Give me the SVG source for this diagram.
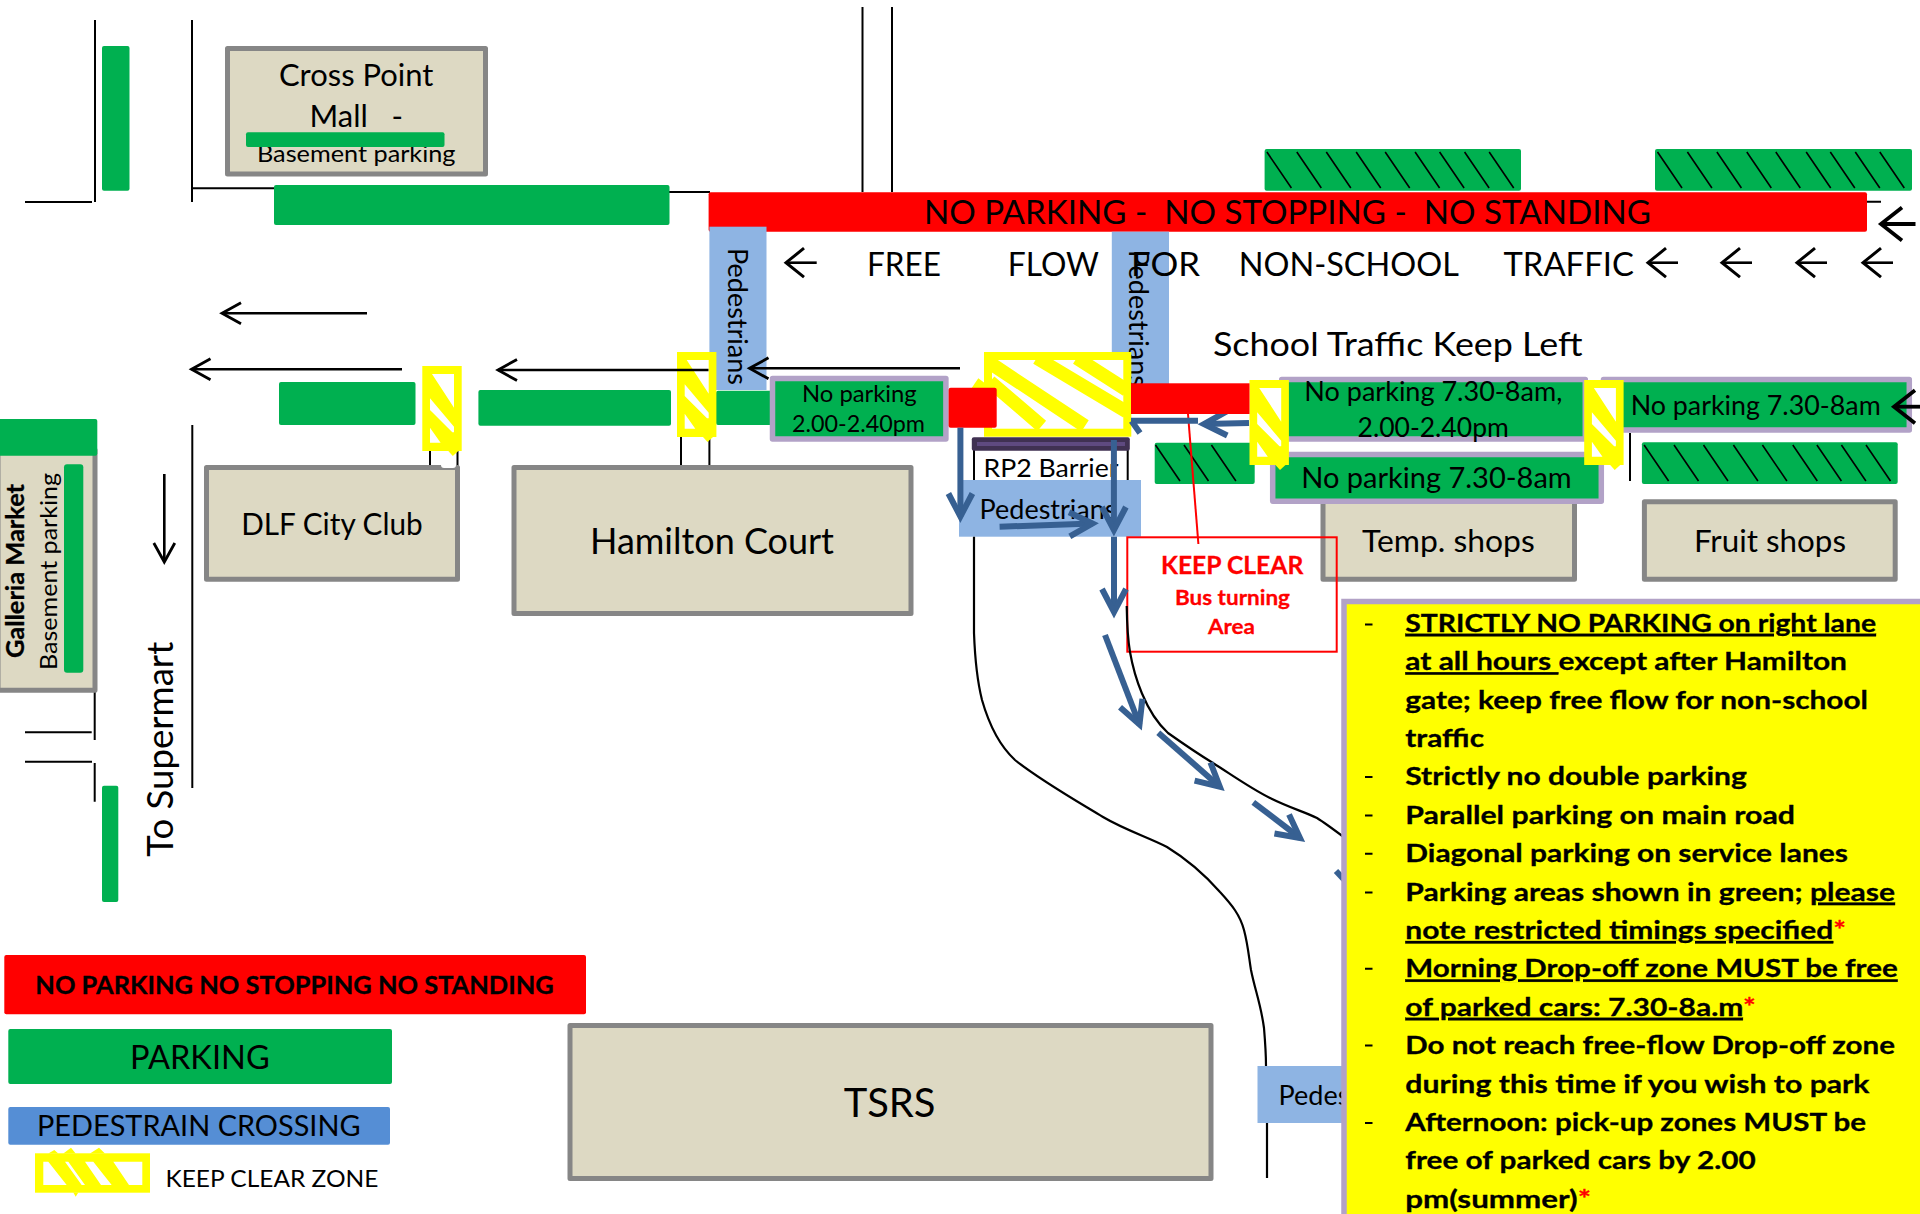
<svg xmlns="http://www.w3.org/2000/svg" width="1920" height="1214" viewBox="0 0 1920 1214">
<style>
text{font-family:Lato,"Liberation Sans",sans-serif;fill:#000;white-space:pre}
.b{font-weight:700;stroke:#000;stroke-width:.3}
.u{text-decoration:underline;text-decoration-skip-ink:none}
.r{fill:#f00;stroke:#f00}
.g{fill:#00B050}
.red{fill:#f00}
.ped{fill:#8EB4E3}
.box{fill:#DDD9C3;stroke:#868686;stroke-width:5;stroke-linejoin:round}
.np{fill:#00B050;stroke:#B2A2C7;stroke-width:5.5;stroke-linejoin:round}
.hatch{fill:none;stroke:#000;stroke-width:1.6}
.ln{fill:none;stroke:#000;stroke-width:2}
.cv{fill:none;stroke:#000;stroke-width:2.2}
.ar{fill:none;stroke:#000;stroke-width:2.6}
.bl{fill:none;stroke:#376092;stroke-width:6}
.n{font-weight:700;font-size:25px;stroke:#000;stroke-width:.3}
</style>
<defs>
<marker id="a1" markerUnits="userSpaceOnUse" markerWidth="40" markerHeight="40" refX="20" refY="20" orient="auto"><path d="M1 9.5L20 20L1 30.5" fill="none" stroke="#000" stroke-width="2.8"/></marker>
<marker id="a2" markerUnits="userSpaceOnUse" markerWidth="50" markerHeight="50" refX="25" refY="25" orient="auto"><path d="M7 10.5L25 25L7 39.5" fill="none" stroke="#000" stroke-width="3"/></marker>
<marker id="a3" markerUnits="userSpaceOnUse" markerWidth="60" markerHeight="60" refX="30" refY="30" orient="auto"><path d="M9 13.5L30 30L9 46.5" fill="none" stroke="#000" stroke-width="3.8"/></marker>
<marker id="b1" markerUnits="userSpaceOnUse" markerWidth="60" markerHeight="60" refX="30" refY="30" orient="auto"><path d="M7 18L30 30L7 42" fill="none" stroke="#376092" stroke-width="6"/></marker>
<g id="zone">
<rect width="39.4" height="85" fill="#ff0"/>
<path d="M26 85L30.500 90L36 85Z" fill="#ff0"/>
<path d="M9.700 8H31.700V41.700Z M7.700 32.300L31.700 60.700V66.300H30L7.700 44Z M7.700 61.700L18.300 76.700H7.700Z" fill="#fff"/>
</g>
</defs>
<rect width="1920" height="1214" fill="#fff"/>

<g id="road-edges">
<path class="ln" d="M95 20V202M25 202H92M192 20V202M192 188.300H274M669 192H710M862.500 7V192M892 7V192M192.300 425V788M94.700 439V740M25 732.300H91.700M25 761.700H92M94.700 763V801.700M430 451V474M457.500 451V480M681 437V465M709.400 437V465M974 450V480M1127.700 450V480M1630 433V481M1867 201.700H1881"/>
</g>

<g id="cross-point-mall">
<rect class="box" x="227.500" y="48.500" width="258" height="125.500"/>
<text x="279" y="86" font-size="31" textLength="154.400" lengthAdjust="spacingAndGlyphs">Cross Point</text>
<text x="309.500" y="126.700" font-size="31" textLength="93.500" lengthAdjust="spacingAndGlyphs">Mall   -</text>
<text x="257" y="161.700" font-size="24" textLength="198.500" lengthAdjust="spacingAndGlyphs">Basement parking</text>
<rect class="g" x="246" y="132.300" width="198.500" height="14.700" rx="2"/>
</g>

<g id="parking-strips">
<rect class="g" x="102" y="46" width="27.500" height="144.700" rx="2"/>
<rect class="g" x="274" y="185" width="395.500" height="40" rx="2"/>
<rect class="g" x="279" y="382" width="136.500" height="43" rx="2"/>
<rect class="g" x="478.400" y="390" width="192.600" height="35.700" rx="2"/>
<rect class="g" x="716" y="390.700" width="56" height="34.300" rx="2"/>
<rect class="g" x="102" y="785.700" width="16.300" height="116.300" rx="2"/>
</g>

<g id="hatched-parking-1">
<rect class="g" x="1264.600" y="149" width="256.400" height="41.700" rx="2"/>
<path class="hatch" d="M1266.900 152l24.500 36M1296.800 152l24.500 36M1326.300 152l24.500 36M1356.200 152l24.500 36M1385.200 152l24.500 36M1415.100 152l24.500 36M1439.600 152l24.500 36M1464.600 152l24.500 36M1489.200 152l24.500 36"/>
</g>
<g id="hatched-parking-2">
<rect class="g" x="1655" y="149" width="257" height="41.700" rx="2"/>
<path class="hatch" d="M1657.500 152l24.500 36M1687.400 152l24.500 36M1716.900 152l24.500 36M1746.800 152l24.500 36M1775.800 152l24.500 36M1806.200 152l24.500 36M1830.300 152l24.500 36M1855.300 152l24.500 36M1879.800 152l24.500 36"/>
</g>
<g id="hatched-parking-3">
<rect class="g" x="1641.900" y="442.300" width="255.800" height="41.700" rx="2"/>
<path class="hatch" d="M1644.100 445l24.500 36M1674 445l24.500 36M1703.500 445l24.500 36M1733.400 445l24.500 36M1762.400 445l24.500 36M1792.800 445l24.500 36M1816.900 445l24.500 36M1841.400 445l24.500 36M1866 445l24.500 36"/>
</g>
<g id="hatched-parking-4">
<rect class="g" x="1154.700" y="442.700" width="100" height="41.300" rx="2"/>
<path class="hatch" d="M1155.500 445l24.500 36M1184 445l24.500 36M1211.400 445l24.500 36"/>
</g>

<g id="no-parking-bar">
<rect class="red" x="708.600" y="192.300" width="1158.400" height="39.400" rx="2"/>
<text x="924" y="224.300" font-size="32" textLength="727" lengthAdjust="spacingAndGlyphs">NO PARKING -  NO STOPPING -  NO STANDING</text>
</g>

<g id="pedestrians-left">
<rect class="ped" x="709.400" y="226.700" width="57.100" height="163.300"/>
<text transform="translate(727.500 248) rotate(90)" font-size="26" textLength="137" lengthAdjust="spacingAndGlyphs">Pedestrians</text>
</g>
<g id="pedestrians-middle">
<rect class="ped" x="1111.800" y="231.700" width="57.200" height="178.300"/>
<text transform="translate(1129 250) rotate(90)" font-size="26" textLength="137" lengthAdjust="spacingAndGlyphs">Pedestrians</text>
</g>

<g id="free-flow-label">
<text x="867" y="276" font-size="33" textLength="74" lengthAdjust="spacingAndGlyphs">FREE</text>
<text x="1007.800" y="276" font-size="33" textLength="91.200" lengthAdjust="spacingAndGlyphs">FLOW</text>
<text x="1131" y="276" font-size="33" textLength="69" lengthAdjust="spacingAndGlyphs">FOR</text>
<text x="1238.800" y="276" font-size="33" textLength="220" lengthAdjust="spacingAndGlyphs">NON-SCHOOL</text>
<text x="1503.500" y="276" font-size="33" textLength="130.300" lengthAdjust="spacingAndGlyphs">TRAFFIC</text>
</g>
<g id="school-traffic-label">
<text x="1213" y="355.700" font-size="33" textLength="369.500" lengthAdjust="spacingAndGlyphs">School Traffic Keep Left</text>
</g>

<g id="galleria-market">
<rect class="box" x="-2" y="450" width="97" height="240.200"/>
<rect class="g" x="-5" y="419" width="102.300" height="36.700" rx="2"/>
<text class="b" transform="translate(24.300 658) rotate(-90)" font-size="24" textLength="174" lengthAdjust="spacingAndGlyphs">Galleria Market</text>
<text transform="translate(56.700 670) rotate(-90)" font-size="24" textLength="197" lengthAdjust="spacingAndGlyphs">Basement parking</text>
<rect class="g" x="64" y="464.300" width="19.300" height="208.400" rx="3"/>
</g>

<g id="to-supermart"><text transform="translate(172.700 856.700) rotate(-90)" font-size="36" textLength="215" lengthAdjust="spacingAndGlyphs">To Supermart</text></g>

<g id="dlf-city-club">
<rect class="box" x="206.500" y="467.500" width="251" height="111.700"/>
<text x="241.200" y="535" font-size="31" textLength="181.500" lengthAdjust="spacingAndGlyphs">DLF City Club</text>
<rect x="441" y="452" width="15" height="16" rx="3" fill="#fff"/>
</g>
<g id="hamilton-court">
<rect class="box" x="514" y="467.500" width="397" height="146"/>
<text x="590" y="554" font-size="36" textLength="244" lengthAdjust="spacingAndGlyphs">Hamilton Court</text>
</g>
<g id="temp-shops">
<rect class="box" x="1323" y="470" width="251.500" height="109.200"/>
<text x="1362" y="551.700" font-size="31" textLength="172.700" lengthAdjust="spacingAndGlyphs">Temp. shops</text>
</g>
<g id="fruit-shops">
<rect class="box" x="1644.400" y="501.800" width="250.800" height="77.400"/>
<text x="1694" y="551.700" font-size="31" textLength="152" lengthAdjust="spacingAndGlyphs">Fruit shops</text>
</g>
<g id="tsrs">
<rect class="box" x="570" y="1025.500" width="641" height="153"/>
<text x="843.700" y="1117" font-size="41" textLength="91.800" lengthAdjust="spacingAndGlyphs">TSRS</text>
</g>

<g id="no-parking-afternoon">
<rect class="np" x="772.500" y="378.400" width="173.400" height="60.600"/>
<text x="802" y="402.300" font-size="23" textLength="114.700" lengthAdjust="spacingAndGlyphs">No parking</text>
<text x="792" y="432.300" font-size="23" textLength="133" lengthAdjust="spacingAndGlyphs">2.00-2.40pm</text>
</g>
<g id="no-parking-morning-afternoon">
<rect class="np" x="1281.700" y="379.400" width="303.600" height="59.600"/>
<text x="1304.300" y="401" font-size="26" textLength="258" lengthAdjust="spacingAndGlyphs">No parking 7.30-8am,</text>
<text x="1357.500" y="436.700" font-size="26" textLength="151.300" lengthAdjust="spacingAndGlyphs">2.00-2.40pm</text>
</g>
<g id="no-parking-morning-lower">
<rect class="np" x="1272.700" y="454.400" width="328.600" height="46.900"/>
<text x="1301.200" y="488" font-size="28" textLength="270.500" lengthAdjust="spacingAndGlyphs">No parking 7.30-8am</text>
</g>
<g id="no-parking-morning-right">
<rect class="np" x="1603.500" y="379.400" width="305.800" height="50.600"/>
<text x="1630.700" y="415" font-size="26" textLength="250" lengthAdjust="spacingAndGlyphs">No parking 7.30-8am</text>
</g>

<g id="pedestrian-crossing-gate">
<text x="983.500" y="476.700" font-size="25" textLength="135" lengthAdjust="spacingAndGlyphs">RP2 Barrier</text>
<rect class="ped" x="959" y="480" width="182" height="56.700"/>
<text x="979.500" y="519" font-size="26" textLength="137" lengthAdjust="spacingAndGlyphs">Pedestrians</text>
</g>
<g id="pedestrian-crossing-south">
<rect class="ped" x="1257.500" y="1066" width="90" height="57"/>
<text x="1278.500" y="1105" font-size="26" textLength="137" lengthAdjust="spacingAndGlyphs">Pedestrians</text>
</g>

<g id="keep-clear-zones">
<use href="#zone" x="422.300" y="366"/>
<use href="#zone" x="677" y="352"/>
<use href="#zone" x="1249.500" y="380"/>
<use href="#zone" x="1584.200" y="380"/>
</g>
<g id="keep-clear-gate">
<rect x="988" y="356" width="139.300" height="76.700" fill="#fff" stroke="#ff0" stroke-width="8"/>
<g stroke="#ff0" stroke-width="13.500" fill="none">
<path d="M990 381.700L1041.700 426M990 363L1085 426M1036.700 358L1126.700 411.700M1076.700 358L1126.700 390"/>
</g>
<path d="M971.700 388L978.300 378.300L986 384V392H972Z" fill="#ff0"/>
<rect class="red" x="948.600" y="387.700" width="48.100" height="40" rx="2"/>
</g>
<g id="barrier-bar">
<rect x="971.800" y="437.300" width="158" height="13.400" rx="2" fill="#403152"/>
<rect x="977" y="442" width="148" height="4" fill="#5F4A80"/>
</g>

<g id="keep-clear-bus-area">
<rect x="1127.300" y="537.300" width="209.400" height="114.400" fill="none" stroke="#f00" stroke-width="2"/>
<text class="b r" x="1161" y="574" font-size="25" textLength="142.300" lengthAdjust="spacingAndGlyphs">KEEP CLEAR</text>
<text class="b r" x="1175" y="604.700" font-size="21" textLength="115" lengthAdjust="spacingAndGlyphs">Bus turning</text>
<text class="b r" x="1208" y="634" font-size="21" textLength="47" lengthAdjust="spacingAndGlyphs">Area</text>
</g>

<g id="connectors">
<path class="ar" d="M367 313.300H222" marker-end="url(#a1)"/>
<path class="ar" d="M402 369.300H191.500" marker-end="url(#a1)"/>
<path class="ar" d="M708.500 370H498" marker-end="url(#a1)"/>
<path class="ar" d="M960 368.300H749.500" marker-end="url(#a1)"/>
<path class="ar" d="M164.300 474V562" marker-end="url(#a1)"/>
<path class="ar" d="M816.700 262.700H786" marker-end="url(#a2)"/>
<path class="ar" d="M1678 262.700H1648" marker-end="url(#a2)"/>
<path class="ar" d="M1752 262.700H1722" marker-end="url(#a2)"/>
<path class="ar" d="M1827 262.700H1797" marker-end="url(#a2)"/>
<path class="ar" d="M1893 262.700H1863" marker-end="url(#a2)"/>
<path class="ar" style="stroke-width:3.800" d="M1915.500 224H1881" marker-end="url(#a3)"/>
<path class="ar" style="stroke-width:3.800" d="M1920 406.700H1894" marker-end="url(#a3)"/>
<path class="cv" d="M974 536.700V633C975 660 977 680 982 700C990 728 1002 748 1015 760C1040 780 1075 800 1103 817C1125 830 1150 838 1167 847C1185 858 1205 875 1220 892C1232 905 1240 915 1244 930C1248 945 1249 958 1251 970C1255 990 1261 1005 1264 1028C1265 1040 1266 1055 1266 1066"/>
<path class="cv" d="M1267 1123V1178"/>
<path class="cv" d="M1126.700 606C1127 625 1128 640 1130 652C1134 675 1145 712 1168 733C1185 745 1195 752 1213 763C1232 775 1250 788 1270 798C1290 808 1305 812 1317 818C1325 823 1333 829 1345 838"/>
<path d="M1188 414L1198.400 544" fill="none" stroke="#f00" stroke-width="2"/>
<path class="bl" d="M960.400 427.700V516.500" marker-end="url(#b1)"/>
<path class="bl" d="M1113.900 440V530" marker-end="url(#b1)"/>
<path class="bl" d="M999.600 526.700L1092.400 523.500" marker-end="url(#b1)"/>
<path class="bl" d="M1114 536.700V612" marker-end="url(#b1)"/>
<path class="bl" d="M1105 635L1139.500 724.500" marker-end="url(#b1)"/>
<path class="bl" d="M1158.300 732.700L1219.800 786.700" marker-end="url(#b1)"/>
<path class="bl" d="M1253.300 802.300L1300 838" marker-end="url(#b1)"/>
<path class="bl" d="M1336 871L1352 888"/>
<path class="bl" d="M1249 423L1204 424" marker-end="url(#b1)"/>
<path class="bl" d="M1198 420.700H1131M1131.500 421L1140 433"/>
</g>

<g id="no-parking-gate-right"><rect class="red" x="1131" y="383.300" width="118.500" height="30.700"/></g>

<g id="notes">
<rect x="1344" y="601.500" width="600" height="700" fill="#ff0" stroke="#B2A2C7" stroke-width="5.500"/>
<path d="M1365 624.600H1372.500M1365 777H1372.500M1365 815.600H1372.500M1365 853.800H1372.500M1365 892.400H1372.500M1365 968.800H1372.500M1365 1045.600H1372.500M1365 1123H1372.500" stroke="#000" stroke-width="2" fill="none"/>
<text class="n u" x="1405.300" y="631.800" textLength="470.700" lengthAdjust="spacingAndGlyphs">STRICTLY NO PARKING on right lane</text>
<text class="n" x="1405.300" y="670.200" textLength="441.700" lengthAdjust="spacingAndGlyphs"><tspan class="u">at all hours </tspan>except after Hamilton</text>
<text class="n" x="1405.300" y="708.600" textLength="462.700" lengthAdjust="spacingAndGlyphs">gate; keep free flow for non-school</text>
<text class="n" x="1405.300" y="747" textLength="78.700" lengthAdjust="spacingAndGlyphs">traffic</text>
<text class="n" x="1405.300" y="785.400" textLength="341.500" lengthAdjust="spacingAndGlyphs">Strictly no double parking</text>
<text class="n" x="1405.300" y="823.800" textLength="389.700" lengthAdjust="spacingAndGlyphs">Parallel parking on main road</text>
<text class="n" x="1405.300" y="862.200" textLength="442.700" lengthAdjust="spacingAndGlyphs">Diagonal parking on service lanes</text>
<text class="n" x="1405.300" y="900.600" textLength="489.700" lengthAdjust="spacingAndGlyphs">Parking areas shown in green; <tspan class="u">please</tspan></text>
<text class="n" x="1405.300" y="939" textLength="440.700" lengthAdjust="spacingAndGlyphs"><tspan class="u">note restricted timings specified</tspan><tspan class="r">*</tspan></text>
<text class="n u" x="1405.300" y="977.400" textLength="492.400" lengthAdjust="spacingAndGlyphs">Morning Drop-off zone MUST be free</text>
<text class="n" x="1405.300" y="1015.800" textLength="350.400" lengthAdjust="spacingAndGlyphs"><tspan class="u">of parked cars: 7.30-8a.m</tspan><tspan class="r">*</tspan></text>
<text class="n" x="1405.300" y="1054.200" textLength="489.700" lengthAdjust="spacingAndGlyphs">Do not reach free-flow Drop-off zone</text>
<text class="n" x="1405.300" y="1092.600" textLength="464.200" lengthAdjust="spacingAndGlyphs">during this time if you wish to park</text>
<text class="n" x="1405.300" y="1131" textLength="460.700" lengthAdjust="spacingAndGlyphs">Afternoon: pick-up zones MUST be</text>
<text class="n" x="1405.300" y="1169.400" textLength="350.400" lengthAdjust="spacingAndGlyphs">free of parked cars by 2.00</text>
<text class="n" x="1405.300" y="1207.800" textLength="185.700" lengthAdjust="spacingAndGlyphs">pm(summer)<tspan class="r">*</tspan></text>
</g>

<g id="legend-no-parking">
<rect class="red" x="4.300" y="955" width="581.700" height="59.300" rx="2"/>
<text class="b" x="35.300" y="994.300" font-size="25" textLength="518.500" lengthAdjust="spacingAndGlyphs">NO PARKING NO STOPPING NO STANDING</text>
</g>
<g id="legend-parking">
<rect class="g" x="8.300" y="1029" width="383.700" height="55" rx="2"/>
<text x="130" y="1069" font-size="32" textLength="139.700" lengthAdjust="spacingAndGlyphs">PARKING</text>
</g>
<g id="legend-pedestrian">
<rect x="8.300" y="1107" width="381.700" height="37.700" rx="2" fill="#558ED5"/>
<text x="37" y="1136" font-size="29" textLength="323.600" lengthAdjust="spacingAndGlyphs">PEDESTRAIN CROSSING</text>
</g>
<g id="legend-keep-clear">
<rect x="35" y="1153.300" width="115" height="39.400" fill="#ff0"/>
<path d="M48.300 1153.500L54.300 1150L58.300 1153.500ZM63.300 1153.500L71 1147.700L75.700 1153.500ZM90 1153.500L99 1147.700L105 1153.500ZM73.300 1192.500L75.700 1196.700L78.300 1192.500Z" fill="#ff0"/>
<path d="M43.300 1161.700H48.300L66.700 1185H43.300ZM65 1161.700H68.300L85 1185H81.700ZM85 1161.700H93.300L111.700 1185H101ZM113.300 1161.700H142.300V1185H129Z" fill="#fff"/>
<text x="165.500" y="1186.700" font-size="24" textLength="212.900" lengthAdjust="spacingAndGlyphs">KEEP CLEAR ZONE</text>
</g>
</svg>
